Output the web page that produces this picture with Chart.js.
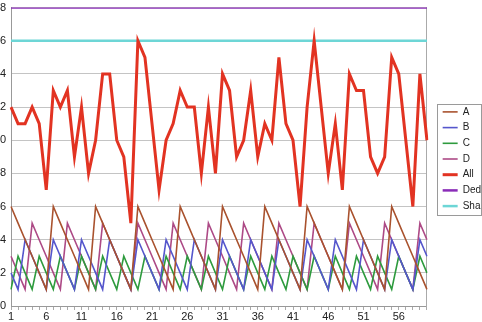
<!DOCTYPE html>
<html>
<head>
<meta charset="utf-8">
<script src="https://cdn.jsdelivr.net/npm/chart.js@4.4.1/dist/chart.umd.min.js"></script>
<style>
  html, body { margin: 0; padding: 0; background: #fff; overflow: hidden; }
  #wrap { position: relative; width: 482px; height: 322px; overflow: hidden; }
  #chart { position: absolute; left: -20px; top: -4px; }
</style>
</head>
<body>
<div id="wrap"><canvas id="chart" width="511" height="326"></canvas></div>
<script>
// categories 1..60
const categories = [1,2,3,4,5,6,7,8,9,10,11,12,13,14,15,16,17,18,19,20,
  21,22,23,24,25,26,27,28,29,30,31,32,33,34,35,36,37,38,39,40,
  41,42,43,44,45,46,47,48,49,50,51,52,53,54,55,56,57,58,59,60];

const seriesA = [6,5,4,3,2,1, 6,5,4,3,2,1, 6,5,4,3,2,1, 6,5,4,3,2,1, 6,5,4,3,2,1,
  6,5,4,3,2,1, 6,5,4,3,2,1, 6,5,4,3,2,1, 6,5,4,3,2,1, 6,5,4,3,2,1];
const seriesB = [2,1,4,3, 2,1,4,3, 2,1,4,3, 2,1,4,3, 2,1,4,3, 2,1,4,3, 2,1,4,3, 2,1,4,3,
  2,1,4,3, 2,1,4,3, 2,1,4,3, 2,1,4,3, 2,1,4,3, 2,1,4,3, 2,1,4,3];
const seriesC = [1,3,2, 1,3,2, 1,3,2, 1,3,2, 1,3,2, 1,3,2, 1,3,2, 1,3,2, 1,3,2, 1,3,2,
  1,3,2, 1,3,2, 1,3,2, 1,3,2, 1,3,2, 1,3,2, 1,3,2, 1,3,2, 1,3,2, 1,3,2];
const seriesD = [3,2,1,5,4, 3,2,1,5,4, 3,2,1,5,4, 3,2,1,5,4, 3,2,1,5,4, 3,2,1,5,4,
  3,2,1,5,4, 3,2,1,5,4, 3,2,1,5,4, 3,2,1,5,4, 3,2,1,5,4, 3,2,1,5,4];
const seriesAll = [12,11,11,12,11,7,13,12,13,9,12,8,10,14,14,10,9,5,16,15,
  11,7,10,11,13,12,12,8,12,8,14,13,9,10,13,9,11,10,15,11,
  10,6,12,16,12,8,11,7,14,13,13,9,8,9,15,14,10,6,14,10];
const seriesDed = [18,18,18,18,18,18,18,18,18,18,18,18,18,18,18,18,18,18,18,18,
  18,18,18,18,18,18,18,18,18,18,18,18,18,18,18,18,18,18,18,18,
  18,18,18,18,18,18,18,18,18,18,18,18,18,18,18,18,18,18,18,18];
const seriesSha = [16,16,16,16,16,16,16,16,16,16,16,16,16,16,16,16,16,16,16,16,
  16,16,16,16,16,16,16,16,16,16,16,16,16,16,16,16,16,16,16,16,
  16,16,16,16,16,16,16,16,16,16,16,16,16,16,16,16,16,16,16,16];
const yTicks = [0,2,4,6,8,10,12,14,16,18];

Chart.defaults.font.family = "'Liberation Sans', Arial, sans-serif";
Chart.defaults.font.size = 11;
Chart.defaults.color = '#222';

function line(label, data, color, width) {
  return { label: label, data: data, borderColor: color, backgroundColor: color,
    borderWidth: width, pointRadius: 0, tension: 0, fill: false };
}

// box around the legend, like the spreadsheet one
const legendFrame = {
  id: 'legendFrame',
  afterDraw(chart) {
    const lg = chart.legend;
    if (!lg || !lg.legendHitBoxes.length) return;
    const hb = lg.legendHitBoxes;
    const top = hb[0].top - 3;
    const last = hb[hb.length - 1];
    const bottom = last.top + last.height + 4;
    const ctx = chart.ctx;
    ctx.save();
    ctx.strokeStyle = '#9a9a9a';
    ctx.lineWidth = 1;
    ctx.strokeRect(Math.round(lg.left) + 0.5, Math.round(top) + 0.5, 44, Math.round(bottom - top));
    ctx.restore();
  }
};

new Chart(document.getElementById('chart').getContext('2d'), {
  type: 'line',
  data: {
    labels: categories,
    datasets: [
      line('A', seriesA, '#a9522e', 1.6),
      line('B', seriesB, '#5556cc', 1.6),
      line('C', seriesC, '#2e9b3e', 1.6),
      line('D', seriesD, '#ad4a86', 1.6),
      line('All', seriesAll, '#e23322', 3),
      line('Ded', seriesDed, '#8a2cb8', 2.5),
      line('Sha', seriesSha, '#6dd6d6', 2.5)
    ]
  },
  options: {
    responsive: false,
    animation: false,
    layout: { padding: 0 },
    plugins: {
      legend: {
        position: 'right',
        labels: {
          usePointStyle: true,
          pointStyle: 'line',
          pointStyleWidth: 15,
          padding: 5.7,
          color: '#222',
          font: { size: 10 }
        }
      },
      tooltip: { enabled: false }
    },
    scales: {
      x: {
        offset: false,
        grid: { display: true, drawOnChartArea: false, drawTicks: true, tickLength: 4, color: '#aaa' },
        border: { display: true, color: '#999' },
        ticks: {
          autoSkip: false, maxRotation: 0, padding: 0, color: '#222',
          callback: function(v, i) { return i % 5 === 0 ? categories[i] : ''; }
        },
        afterFit: function(s) { s.height = 16; }
      },
      y: {
        min: 0, max: 18,
        afterBuildTicks: function(s) { s.ticks = yTicks.map(function(v) { return { value: v }; }); },
        grid: { color: '#c4c4c4', drawTicks: false },
        border: { display: true, color: '#999' },
        ticks: { padding: 5, color: '#222' },
        afterFit: function(s) { s.width = 31; }
      },
      y2: {
        position: 'right',
        min: 0, max: 18,
        grid: { drawOnChartArea: false, drawTicks: false },
        border: { display: true, color: '#aaa' },
        ticks: { display: false },
        afterFit: function(s) { s.width = 10; }
      }
    }
  },
  plugins: [legendFrame]
});
</script>
</body>
</html>
